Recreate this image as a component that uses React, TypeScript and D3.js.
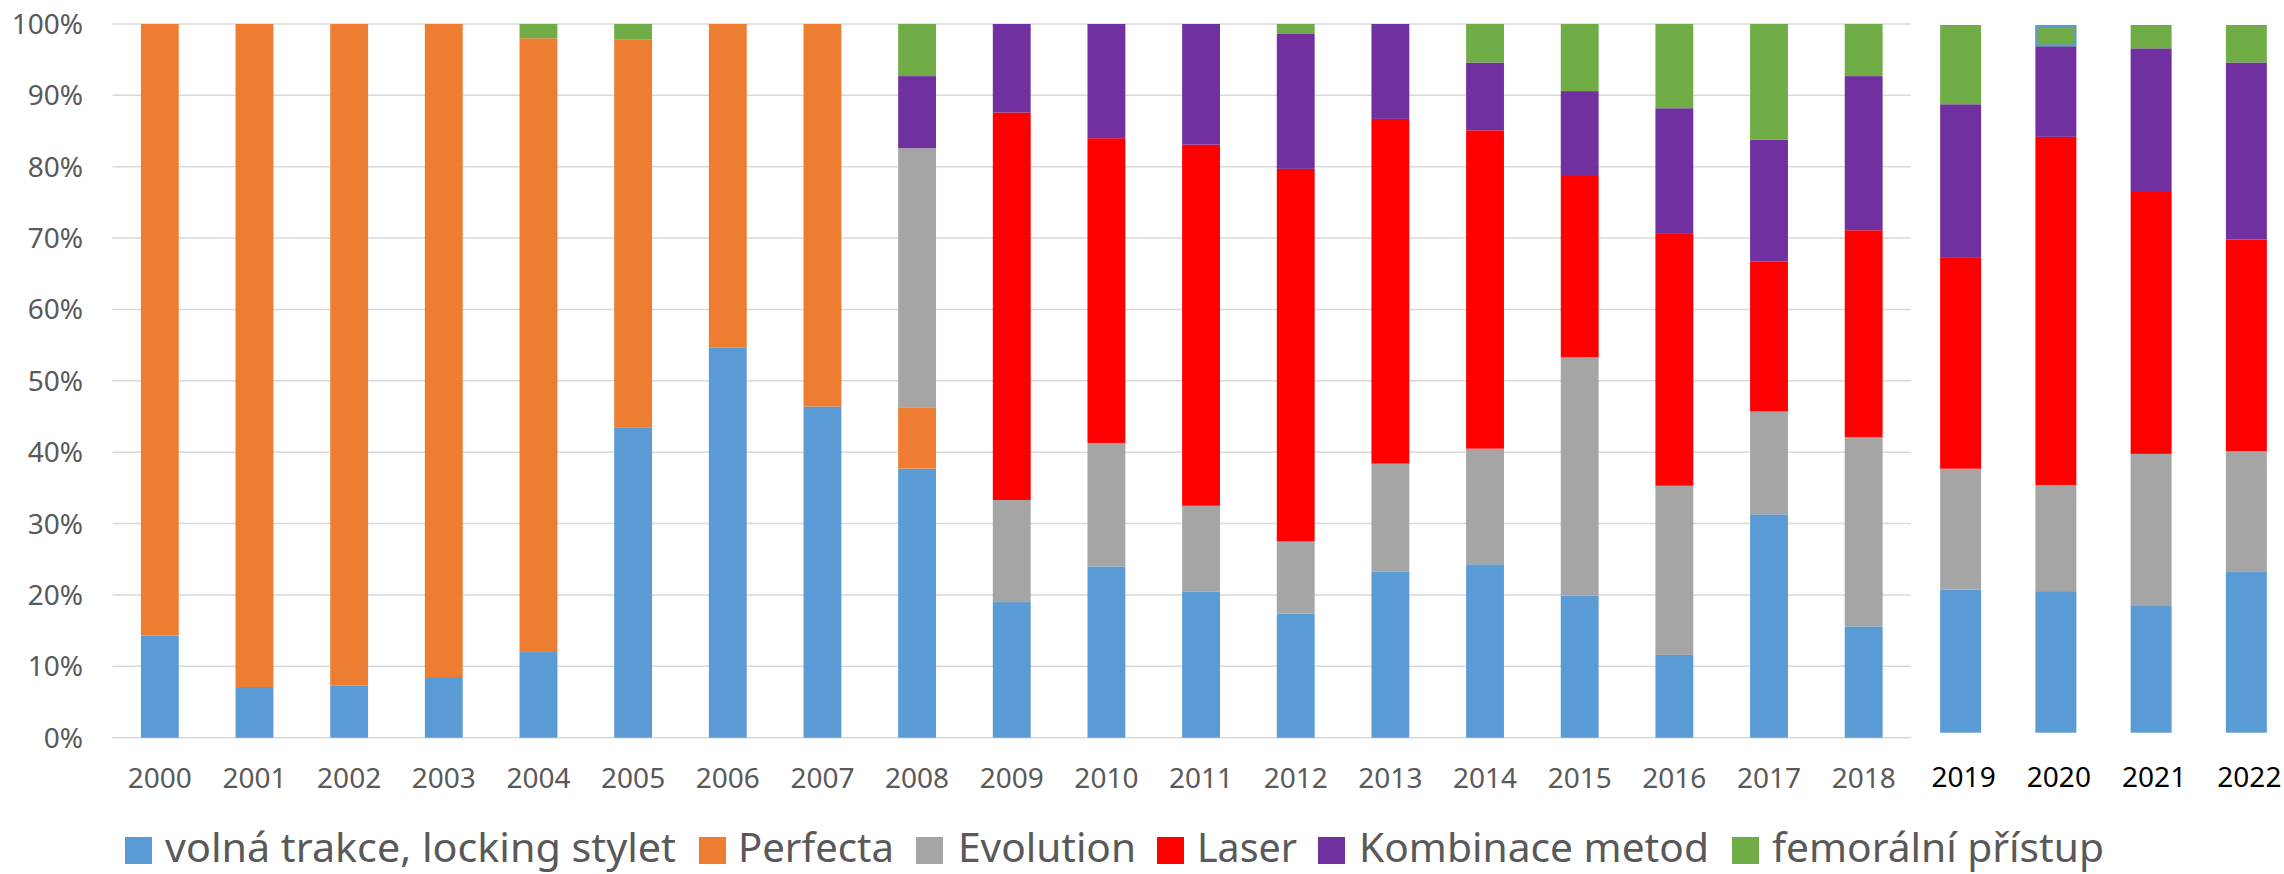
import React from 'react';
import * as d3 from 'd3';

const years = ['2000','2001','2002','2003','2004','2005','2006','2007','2008','2009','2010','2011','2012','2013','2014','2015','2016','2017','2018'];
const addedYears = ['2019','2020','2021','2022'];
const seriesNames = ['volná trakce, locking stylet','Perfecta','Evolution','Laser','Kombinace metod','femorální přístup'];
const seriesColors = ['#5B9BD5','#ED7D31','#A5A5A5','#FF0000','#7030A0','#70AD47'];

const blue   = [14.3, 7.1, 7.3, 8.5, 12.0, 43.5, 54.7, 46.4, 37.7, 19.0, 24.0, 20.5, 17.4, 23.3, 24.3, 19.9, 11.6, 31.3, 15.6, 20.2, 20.0, 17.9, 22.7];
const orange = [85.7, 92.9, 92.7, 91.5, 86.0, 54.3, 45.3, 53.6, 8.6, 0, 0, 0, 0, 0, 0, 0, 0, 0, 0, 0, 0, 0, 0];
const gray   = [0, 0, 0, 0, 0, 0, 0, 0, 36.3, 14.3, 17.3, 12.0, 10.1, 15.1, 16.2, 33.4, 23.7, 14.4, 26.5, 17.1, 15.0, 21.5, 17.1];
const red    = [0, 0, 0, 0, 0, 0, 0, 0, 0, 54.3, 42.7, 50.6, 52.2, 48.3, 44.6, 25.4, 35.4, 21.0, 29.0, 29.9, 49.2, 37.0, 29.9];
const purple = [0, 0, 0, 0, 0, 0, 0, 0, 10.1, 12.4, 16.0, 16.9, 18.9, 13.3, 9.5, 11.9, 17.5, 17.1, 21.6, 21.6, 12.8, 20.3, 25.0];
const green  = [0, 0, 0, 0, 2.0, 2.2, 0, 0, 7.3, 0, 0, 0, 1.4, 0, 5.4, 9.4, 11.8, 16.2, 7.3, 11.2, 3.0, 3.3, 5.3];

const yTicks = [0, 10, 20, 30, 40, 50, 60, 70, 80, 90, 100];

const allYears = [...years, ...addedYears];
const seriesArrays = [blue, orange, gray, red, purple, green];
const keys = seriesNames;
const rows = allYears.map((yr, i) => {
  const r: any = { year: yr };
  keys.forEach((k, j) => { r[k] = seriesArrays[j][i]; });
  return r;
});
const stacked = d3.stack<any>().keys(keys)(rows);

const W = 2284, H = 874;
const FONT = "'Noto Sans', sans-serif";

export default function App() {
  const x = d3.scaleBand<string>().domain(years).range([112.5, 1911]).paddingInner(0.6).paddingOuter(0.3);
  const y = d3.scaleLinear().domain([0, 100]).range([737.7, 24]);
  const x2 = d3.scaleBand<string>().domain(addedYears).range([1913, 2294]).paddingInner(0.57).paddingOuter(0.285);
  const y2 = d3.scaleLinear().domain([0, 100]).range([732.7, 25]);

  const legendItems = [
    { sq: 125, tx: 165, w: 511 },
    { sq: 699, tx: 738, w: 156 },
    { sq: 916, tx: 958, w: 178 },
    { sq: 1157, tx: 1197, w: 100 },
    { sq: 1318, tx: 1359, w: 350 },
    { sq: 1732, tx: 1772, w: 332 },
  ];

  return (
    <svg width={W} height={H} style={{ position: 'absolute', left: 0, top: 0, background: '#fff' }} fontFamily={FONT}>
      <rect x={0} y={0} width={W} height={H} fill="#fff" />
      {yTicks.map(t => (
        <g key={t}>
          <line x1={112.5} x2={1911} y1={y(t)} y2={y(t)} stroke="#D9D9D9" strokeWidth={1.5} />
          <text x={83} y={y(t) + 10} textAnchor="end" fontSize={28} fill="#595959">{t}%</text>
        </g>
      ))}
      {stacked.map((s, si) => (
        <g key={s.key} fill={seriesColors[si]}>
          {s.map((d, i) => {
            const yr = allYears[i];
            const isMain = i < years.length;
            const xs = isMain ? x : x2;
            const ys = isMain ? y : y2;
            const h = ys(d[0]) - ys(d[1]);
            if (h <= 0.01) return null;
            return <rect key={yr} x={xs(yr)} width={xs.bandwidth()} y={ys(d[1])} height={h} />;
          })}
        </g>
      ))}
      {(() => {
        const i = allYears.indexOf('2020');
        const s = stacked[5][i];
        return <rect x={(x2('2020') as number) + 1} width={x2.bandwidth() - 2} y={y2(s[1]) + 1} height={y2(s[0]) - y2(s[1]) - 2} fill="none" stroke="#5B9BD5" strokeWidth={2} />;
      })()}
      {years.map(yr => (
        <text key={yr} x={(x(yr) as number) + x.bandwidth() / 2} y={788} textAnchor="middle" fontSize={28} fill="#595959">{yr}</text>
      ))}
      {addedYears.map(yr => (
        <text key={yr} x={(x2(yr) as number) + x2.bandwidth() / 2 + 3} y={787} textAnchor="middle" fontSize={28} fill="#000">{yr}</text>
      ))}
      {seriesNames.map((n, i) => (
        <g key={n}>
          <rect x={legendItems[i].sq} y={837} width={27} height={27} fill={seriesColors[i]} />
          <text x={legendItems[i].tx} y={862} fontSize={40} fill="#595959" textLength={legendItems[i].w} lengthAdjust="spacingAndGlyphs">{n}</text>
        </g>
      ))}
    </svg>
  );
}
